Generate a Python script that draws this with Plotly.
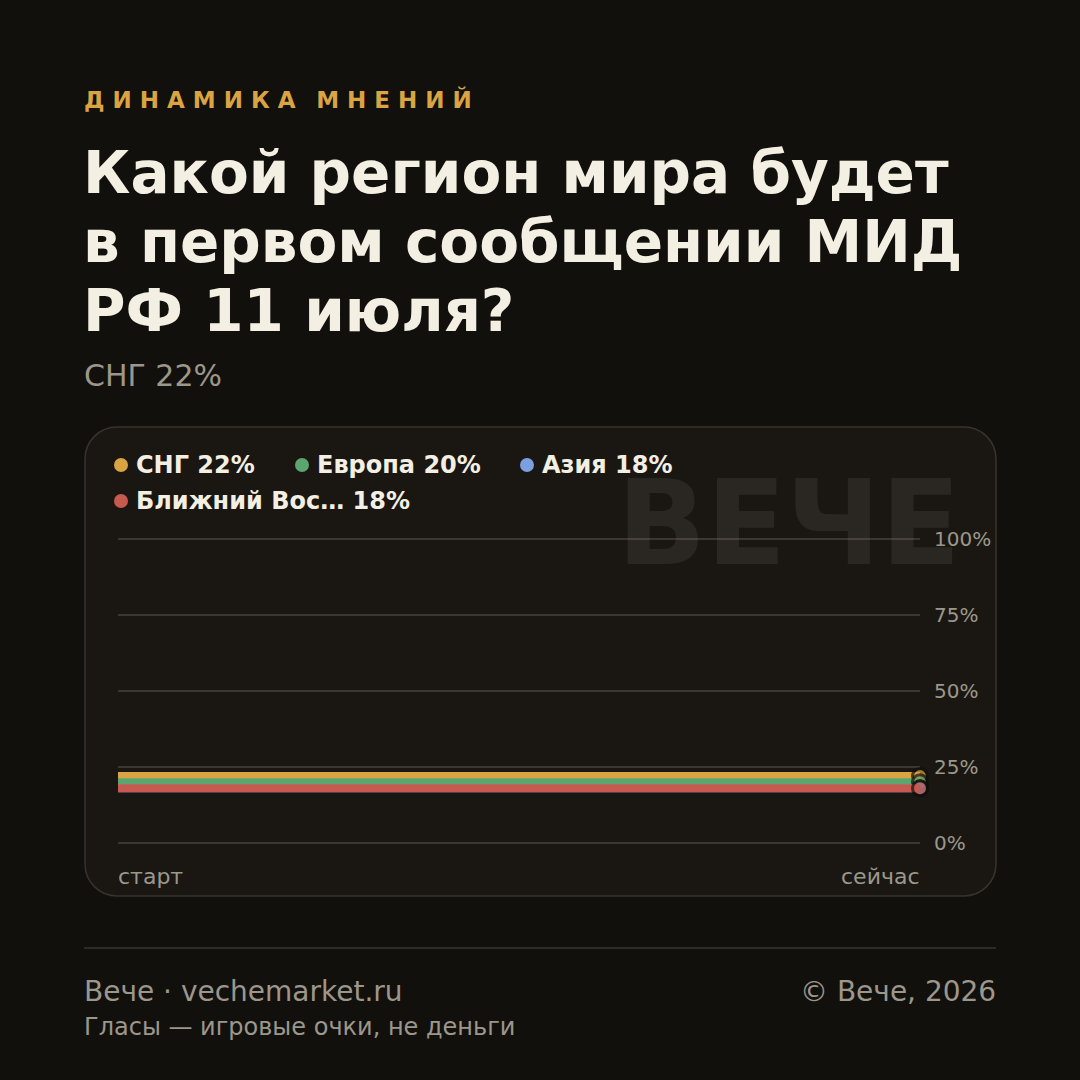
import plotly.graph_objects as go

# ---------------- data ----------------
x_labels = ["старт", "сейчас"]
series_names = ["СНГ", "Европа", "Азия", "Ближний Восток"]
series_values = [
    [22, 22],
    [20, 20],
    [18, 18],
    [18, 18],
]
series_colors = ["#d9a441", "#5aa66e", "#7b9fe0", "#c65a4e"]
y_ticks = [0, 25, 50, 75, 100]

kicker = "ДИНАМИКА МНЕНИЙ"
title_lines = ["Какой регион мира будет", "в первом сообщении МИД", "РФ 11 июля?"]
subtitle = "СНГ 22%"
watermark = "ВЕЧЕ"
footer_left = "Вече · vechemarket.ru"
footer_right = "© Вече, 2026"
footer_note = "Гласы — игровые очки, не деньги"

# ---------------- styling ----------------
W = H = 1080
BG = "#12100d"
CARD = "#1a1713"
CARD_BORDER = "#37332d"
GRID = "#3a3630"
CREAM = "#f3efe3"
MUTED = "#9c978b"
GOLD = "#d9a441"
FONT = "DejaVu Sans"


def px(x):
    return x / W


def py(y):
    return 1 - y / H


def spaced(text):
    words = text.split(" ")
    return "\u00a0\u2009\u00a0".join("\u00a0".join(list(w)) for w in words)


def short(name, n=11):
    return name if len(name) <= n + 1 else name[:n] + "…"


fig = go.Figure()

xs = list(range(len(x_labels)))
for name, vals, col in zip(series_names, series_values, series_colors):
    n = len(vals)
    fig.add_trace(go.Scatter(
        x=xs, y=vals, mode="lines+markers", name=name,
        line=dict(color=col, width=8),
        marker=dict(size=[0] * (n - 1) + [15], color=col,
                    line=dict(color=BG, width=[0] * (n - 1) + [3])),
        cliponaxis=False, showlegend=False, hoverinfo="skip",
    ))

# plot area in pixels
PX0, PX1 = 118, 920
PY0, PY100 = 843, 539
pad = 1.0  # small range padding so the 0% and 100% grid lines are drawn
ppu = (PY0 - PY100) / 100.0
dom_bottom = py(PY0 + pad * ppu)
dom_top = py(PY100 - pad * ppu)

fig.update_layout(
    width=W, height=H,
    margin=dict(l=0, r=0, t=0, b=0, pad=0, autoexpand=False),
    paper_bgcolor=BG, plot_bgcolor="rgba(0,0,0,0)",
    font=dict(family=FONT, color=CREAM),
    showlegend=False,
    xaxis=dict(domain=[px(PX0), px(PX1)], range=[0, len(x_labels) - 1],
               showgrid=False, zeroline=False, showticklabels=False,
               automargin=False, fixedrange=True),
    yaxis=dict(domain=[dom_bottom, dom_top], range=[-pad, 100 + pad], side="right",
               tickmode="array", tickvals=y_ticks, ticktext=[f"{v}%" for v in y_ticks],
               showgrid=True, gridcolor=GRID, gridwidth=2, zeroline=False,
               showline=False, ticks="", ticklabelstandoff=13, automargin=False,
               tickfont=dict(family=FONT, size=20, color=MUTED), fixedrange=True),
)

# card (rounded rectangle)
cx0, cy0, cx1, cy1, r = 85, 427, 996, 896, 32
k = 0.5523 * r


def P(x, y):
    return f"{px(x):.5f},{py(y):.5f}"


path = (
    f"M {P(cx0 + r, cy0)} L {P(cx1 - r, cy0)} "
    f"C {P(cx1 - r + k, cy0)} {P(cx1, cy0 + r - k)} {P(cx1, cy0 + r)} "
    f"L {P(cx1, cy1 - r)} "
    f"C {P(cx1, cy1 - r + k)} {P(cx1 - r + k, cy1)} {P(cx1 - r, cy1)} "
    f"L {P(cx0 + r, cy1)} "
    f"C {P(cx0 + r - k, cy1)} {P(cx0, cy1 - r + k)} {P(cx0, cy1 - r)} "
    f"L {P(cx0, cy0 + r)} "
    f"C {P(cx0, cy0 + r - k)} {P(cx0 + r - k, cy0)} {P(cx0 + r, cy0)} Z"
)
fig.add_shape(type="path", path=path, xref="paper", yref="paper",
              fillcolor=CARD, line=dict(color=CARD_BORDER, width=1.5), layer="below")

# footer separator
fig.add_shape(type="line", xref="paper", yref="paper",
              x0=px(84), x1=px(996), y0=py(948), y1=py(948),
              line=dict(color="#2e2a25", width=2), layer="below")

ann = []

# watermark
ann.append(dict(text=f"<b>{watermark}</b>", x=px(963), y=py(523), xref="paper", yref="paper",
                xanchor="right", yanchor="middle", showarrow=False,
                font=dict(family=FONT, size=117, color="rgba(255,245,225,0.07)")))

# kicker
ann.append(dict(text=f"<b>{spaced(kicker)}</b>", x=px(82), y=py(99), xref="paper", yref="paper",
                xanchor="left", yanchor="middle", showarrow=False,
                font=dict(family=FONT, size=23, color=GOLD)))

# title lines
for i, line in enumerate(title_lines):
    ann.append(dict(text=f"<b>{line}</b>", x=px(81), y=py(173 + i * 69), xref="paper", yref="paper",
                    xanchor="left", yanchor="middle", showarrow=False,
                    font=dict(family=FONT, size=58, color=CREAM)))

# subtitle
ann.append(dict(text=subtitle, x=px(82), y=py(376), xref="paper", yref="paper",
                xanchor="left", yanchor="middle", showarrow=False,
                font=dict(family=FONT, size=30, color=MUTED)))

# legend (dots + labels)
leg_pos = [(121, 465), (302, 465), (527, 465), (121, 501)]
for (lx, ly), name, vals, col in zip(leg_pos, series_names, series_values, series_colors):
    fig.add_shape(type="circle", xref="paper", yref="paper",
                  x0=px(lx - 7), x1=px(lx + 7), y0=py(ly + 7), y1=py(ly - 7),
                  fillcolor=col, line=dict(width=0))
    ann.append(dict(text=f"<b>{short(name)} {vals[-1]}%</b>", x=px(lx + 13), y=py(ly),
                    xref="paper", yref="paper", xanchor="left", yanchor="middle",
                    showarrow=False, font=dict(family=FONT, size=24, color=CREAM)))

# x labels
ann.append(dict(text=x_labels[0], x=xs[0], y=py(876), xref="x", yref="paper",
                xanchor="left", yanchor="middle", showarrow=False, xshift=-2,
                font=dict(family=FONT, size=22, color=MUTED)))
ann.append(dict(text=x_labels[-1], x=xs[-1], y=py(876), xref="x", yref="paper",
                xanchor="right", yanchor="middle", showarrow=False, xshift=2,
                font=dict(family=FONT, size=22, color=MUTED)))

# footer
ann.append(dict(text=footer_left, x=px(82), y=py(991), xref="paper", yref="paper",
                xanchor="left", yanchor="middle", showarrow=False,
                font=dict(family=FONT, size=28, color=MUTED)))
ann.append(dict(text=footer_right, x=px(998), y=py(991), xref="paper", yref="paper",
                xanchor="right", yanchor="middle", showarrow=False,
                font=dict(family=FONT, size=28, color=MUTED)))
ann.append(dict(text=footer_note, x=px(82), y=py(1027), xref="paper", yref="paper",
                xanchor="left", yanchor="middle", showarrow=False,
                font=dict(family=FONT, size=24, color=MUTED)))

fig.update_layout(annotations=ann)

fig.write_html("out.html")
